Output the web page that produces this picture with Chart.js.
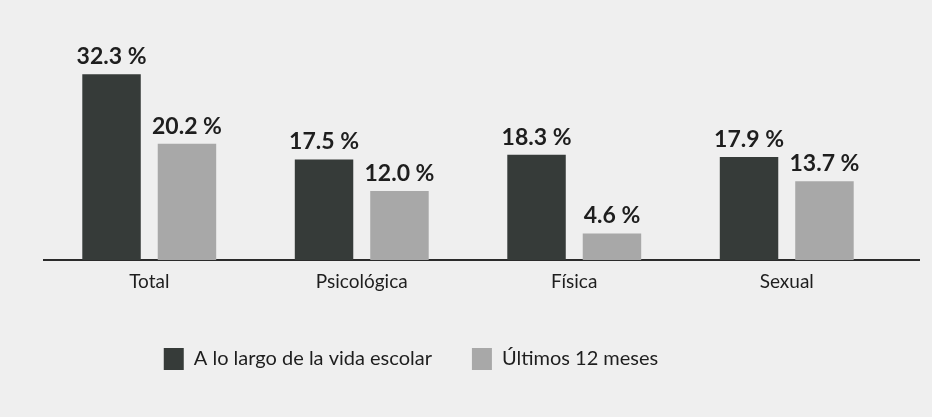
<!DOCTYPE html>
<html>
<head>
<meta charset="utf-8">
<script src="https://cdn.jsdelivr.net/npm/chart.js@4.4.1/dist/chart.umd.min.js"></script>
<style>
  html, body { margin: 0; padding: 0; background: #efefef; }
  #wrap { width: 932px; height: 417px; }
</style>
</head>
<body>
<div id="wrap"><canvas id="chartViolencia" width="932" height="417"></canvas></div>
<script>
const categorias = ['Total', 'Psicológica', 'Física', 'Sexual'];
const vidaEscolar = [32.3, 17.5, 18.3, 17.9];   // A lo largo de la vida escolar
const ultimos12 = [20.2, 12.0, 4.6, 13.7];      // Últimos 12 meses
const nombresSeries = ['A lo largo de la vida escolar', 'Últimos 12 meses'];

const FONT = "Lato, 'Open Sans', sans-serif";

// etiquetas de valor encima de cada barra
const etiquetasValor = {
    id: 'etiquetasValor',
    afterDatasetsDraw(chart) {
        const ctx = chart.ctx;
        ctx.save();
        ctx.font = "bold 23px " + FONT;
        ctx.fillStyle = '#1e1e1e';
        ctx.textAlign = 'center';
        ctx.textBaseline = 'bottom';
        chart.data.datasets.forEach((ds, i) => {
            chart.getDatasetMeta(i).data.forEach((bar, j) => {
                ctx.fillText(ds.data[j].toFixed(1) + ' %', bar.x, bar.y - 6);
            });
        });
        ctx.restore();
    }
};

// linea base, un poco mas larga que el area del grafico
const lineaBase = {
    id: 'lineaBase',
    beforeDatasetsDraw(chart) {
        const { ctx, chartArea } = chart;
        ctx.save();
        ctx.strokeStyle = '#2b2b2b';
        ctx.lineWidth = 2;
        ctx.beginPath();
        ctx.moveTo(chartArea.left, chartArea.bottom);
        ctx.lineTo(chartArea.right + 27, chartArea.bottom);
        ctx.stroke();
        ctx.restore();
    }
};

// la leyenda esta desplazada a la izquierda en el original
const moverLeyenda = {
    id: 'moverLeyenda',
    afterLayout(chart) {
        chart.legend.left -= 57;
        chart.legend.right -= 57;
    }
};

const ctx = document.getElementById('chartViolencia').getContext('2d');
new Chart(ctx, {
    type: 'bar',
    data: {
        labels: categorias,
        datasets: [{
            label: nombresSeries[0],
            data: vidaEscolar,
            backgroundColor: '#363b39'
        }, {
            label: nombresSeries[1],
            data: ultimos12,
            backgroundColor: '#a8a8a8'
        }]
    },
    options: {
        responsive: false,
        animation: false,
        categoryPercentage: 0.71,
        barPercentage: 0.775,
        layout: {
            padding: { left: 43, right: 39, top: 30, bottom: 37 }
        },
        plugins: {
            legend: {
                position: 'bottom',
                labels: {
                    boxWidth: 20,
                    boxHeight: 22,
                    padding: 40,
                    color: '#1e1e1e',
                    font: { family: FONT, size: 20 }
                }
            },
            tooltip: { enabled: false }
        },
        scales: {
            x: {
                grid: { display: false, drawTicks: false },
                border: { display: false },
                ticks: {
                    color: '#1e1e1e',
                    padding: 10,
                    font: { family: FONT, size: 19 }
                },
                afterFit: scale => { scale.height = 48; }
            },
            y: {
                display: false,
                min: 0,
                max: 40
            }
        }
    },
    plugins: [lineaBase, etiquetasValor, moverLeyenda]
});
</script>
</body>
</html>
